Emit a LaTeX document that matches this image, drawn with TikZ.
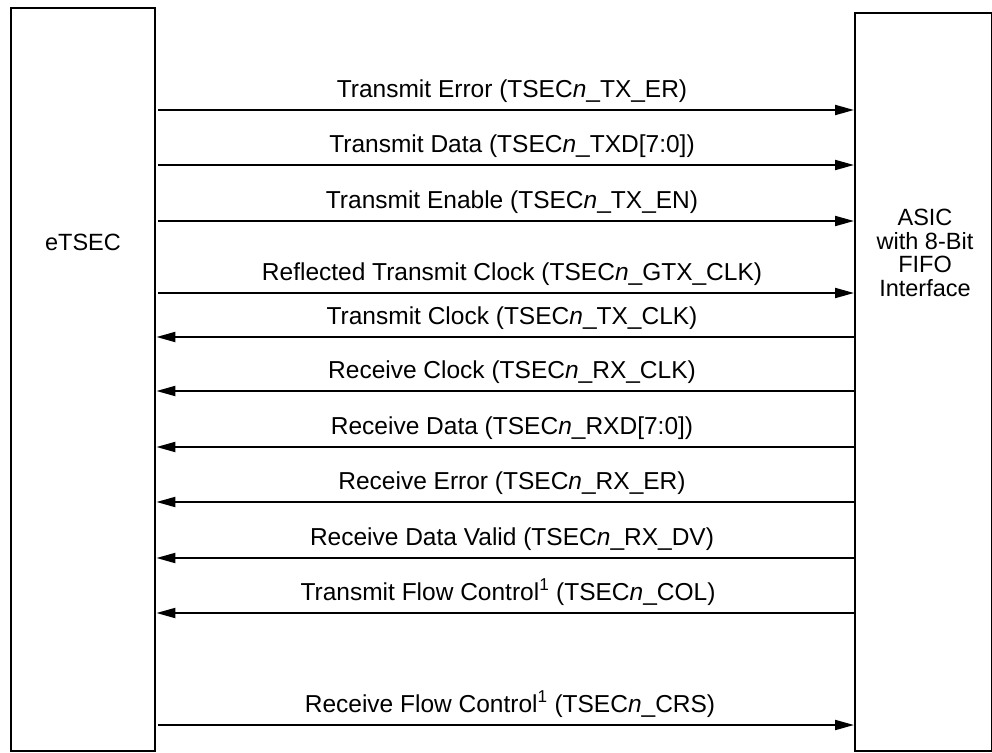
\documentclass[tikz,border=0pt]{standalone}
\usepackage{fontspec}
\setmainfont{Liberation Sans}
\usetikzlibrary{arrows.meta}
\tikzset{
  blk/.style={draw, line width=2.4pt, inner sep=0pt, anchor=north west},
  sig/.style={line width=2pt, -{Triangle[length=19pt,width=10pt]}},
  siglbl/.style={anchor=base, inner sep=0pt, font=\fontsize{24.5}{27}\selectfont},
  boxlbl/.style={align=center, inner sep=0pt, font=\fontsize{23.5}{23.5}\selectfont},
}
\begin{document}
\begin{tikzpicture}[x=1pt,y=-1pt]
\useasboundingbox (0,0) rectangle (992,752);
% boxes
\node[blk, minimum width=144pt, minimum height=743pt] (etsec) at (10,7) {};
\node[blk, minimum width=137pt, minimum height=738pt] (asic) at (854,12) {};
\node[boxlbl] (etseclbl) at (83,242) {eTSEC};
\node[boxlbl] (asiclbl) at (925,253) {ASIC\\with 8-Bit\\FIFO\\Interface};
% rows
\foreach \n/\y in {1/110,2/165,3/221,4/293,5/337,6/391,7/447,8/502,9/558,10/613,11/725}
  \coordinate (y\n) at (0,\y);
% right-pointing
\draw[sig, shorten <=2pt] (etsec.east |- y1) -- (asic.west |- y1);
\draw[sig, shorten <=2pt] (etsec.east |- y2) -- (asic.west |- y2);
\draw[sig, shorten <=2pt] (etsec.east |- y3) -- (asic.west |- y3);
\draw[sig, shorten <=2pt] (etsec.east |- y4) -- (asic.west |- y4);
\draw[sig, shorten <=2pt] (etsec.east |- y11) -- (asic.west |- y11);
% left-pointing
\draw[sig] (asic.west |- y5) -- (etsec.east |- y5);
\draw[sig] (asic.west |- y6) -- (etsec.east |- y6);
\draw[sig] (asic.west |- y7) -- (etsec.east |- y7);
\draw[sig] (asic.west |- y8) -- (etsec.east |- y8);
\draw[sig] (asic.west |- y9) -- (etsec.east |- y9);
\draw[sig] (asic.west |- y10) -- (etsec.east |- y10);
% labels
\node[siglbl] (l1) at (512,97) {Transmit Error (TSEC\textit{n}\_TX\_ER)};
\node[siglbl] (l2) at (512,152) {Transmit Data (TSEC\textit{n}\_TXD[7:0])};
\node[siglbl] (l3) at (512,208) {Transmit Enable (TSEC\textit{n}\_TX\_EN)};
\node[siglbl] (l4) at (512,280) {Reflected Transmit Clock (TSEC\textit{n}\_GTX\_CLK)};
\node[siglbl] (l5) at (512,324) {Transmit Clock (TSEC\textit{n}\_TX\_CLK)};
\node[siglbl] (l6) at (512,378) {Receive Clock (TSEC\textit{n}\_RX\_CLK)};
\node[siglbl] (l7) at (512,434) {Receive Data (TSEC\textit{n}\_RXD[7:0])};
\node[siglbl] (l8) at (512,489) {Receive Error (TSEC\textit{n}\_RX\_ER)};
\node[siglbl] (l9) at (512,545) {Receive Data Valid (TSEC\textit{n}\_RX\_DV)};
\node[siglbl] (l10) at (508,600) {Transmit Flow Control\textsuperscript{1} (TSEC\textit{n}\_COL)};
\node[siglbl] (l11) at (510,712) {Receive Flow Control\textsuperscript{1} (TSEC\textit{n}\_CRS)};
\end{tikzpicture}
\end{document}
